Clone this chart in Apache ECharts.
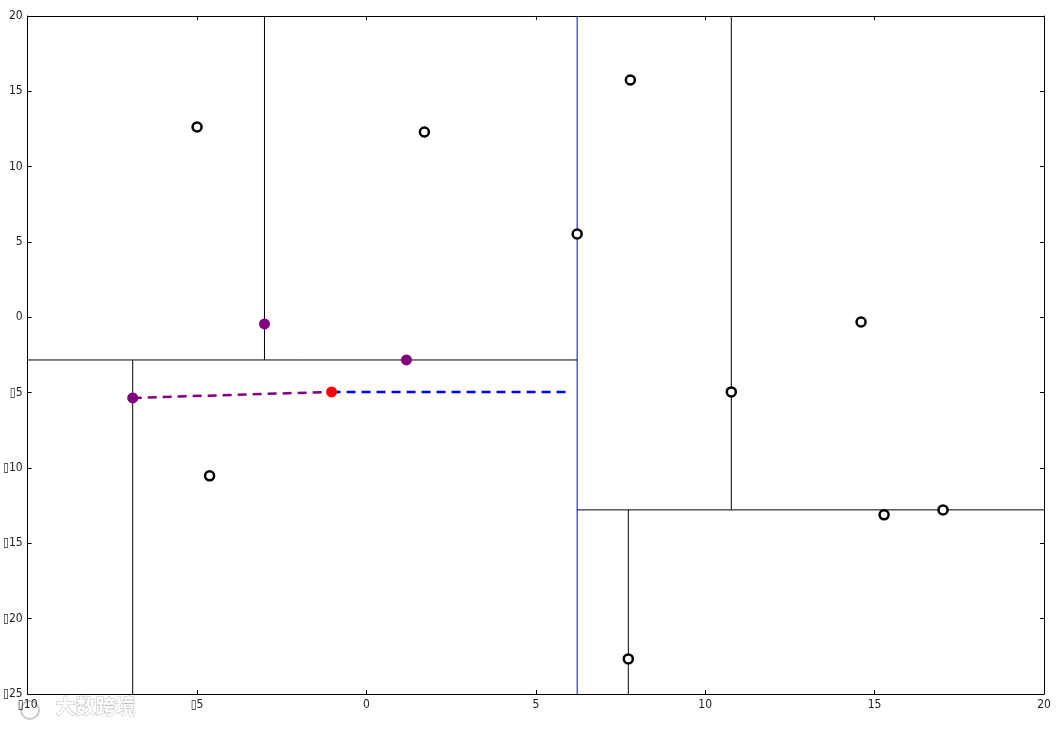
<!DOCTYPE html>
<html><head><meta charset="utf-8">
<script src="https://cdn.jsdelivr.net/npm/echarts@6/dist/echarts.min.js"></script>
<style>html,body{margin:0;padding:0;background:#fff}#c{width:1060px;height:729px}</style>
</head><body><div id="c"></div>
<script>
// Axis ticks
const xTicks = [-10, -5, 0, 5, 10, 15, 20];
const yTicks = [-25, -20, -15, -10, -5, 0, 5, 10, 15, 20];
// Data points (open circles)
const dataPoints = [
  [-5.0, 12.63], [1.71, 12.30], [7.79, 15.75], [6.22, 5.53], [14.60, -0.31],
  [10.77, -4.95], [-4.63, -10.52], [15.28, -13.11], [17.02, -12.78], [7.73, -22.67]
];
// Visited nodes (purple)
const visitedPoints = [[-3.01, -0.44], [1.18, -2.83], [-6.90, -5.35]];
// Query point (red)
const queryPoint = [[-1.03, -4.95]];
// Root split (blue)
const rootSplit = [[6.22, -25], [6.22, 20]];
// Other splits (black)
const splits = [
  [[-10, -2.83], [6.22, -2.83]],
  [[-3.01, -2.83], [-3.01, 20]],
  [[-6.90, -25], [-6.90, -2.83]],
  [[6.22, -12.78], [20, -12.78]],
  [[10.77, -12.78], [10.77, 20]],
  [[7.73, -25], [7.73, -12.78]]
];
// Dashed search paths
const purplePath = [[-6.90, -5.35], [-1.03, -4.95]];
const bluePath = [[-1.03, -4.95], [6.05, -4.95]];

const fmt = v => (v < 0 ? '\u25AF' + Math.abs(v) : String(v));
const labelStyle = {fontFamily: 'Liberation Sans Narrow, DejaVu Sans Condensed, sans-serif', fontSize: 12, color: '#222'};
const baseAxis = (pos, min, max, showLabel) => ({
  type: 'value', position: pos, min, max, interval: 5,
  splitLine: {show: false},
  axisLine: {show: true, onZero: false, lineStyle: {color: '#000', width: 1}},
  axisTick: {show: true, inside: true, length: 4, lineStyle: {color: '#000'}},
  axisLabel: Object.assign({show: showLabel, formatter: fmt, margin: 5}, labelStyle)
});

const series = [];
series.push({type: 'line', data: rootSplit, symbol: 'none', lineStyle: {color: '#0000ff', width: 1}, z: 2, animation: false});
splits.forEach(s => series.push({type: 'line', data: s, symbol: 'none', lineStyle: {color: '#000', width: 1}, z: 2, animation: false}));
series.push({type: 'line', data: purplePath, symbol: 'none', lineStyle: {color: '#800080', width: 2.5, type: [9, 6]}, z: 3, animation: false});
series.push({type: 'line', data: bluePath, symbol: 'none', lineStyle: {color: '#0000ff', width: 2.5, type: [9, 6]}, z: 3, animation: false});
series.push({type: 'scatter', data: dataPoints, symbol: 'circle', symbolSize: 9, itemStyle: {color: '#fff', borderColor: '#000', borderWidth: 2.5, opacity: 1}, z: 5, animation: false});
series.push({type: 'scatter', data: visitedPoints, symbol: 'circle', symbolSize: 11, itemStyle: {color: '#800080', opacity: 1}, z: 5, animation: false});
series.push({type: 'scatter', data: queryPoint, symbol: 'circle', symbolSize: 11, itemStyle: {color: '#ff0000', opacity: 1}, z: 6, animation: false});

const chart = echarts.init(document.getElementById('c'), null, {renderer: 'canvas'});
chart.setOption({
  animation: false,
  backgroundColor: '#fff',
  grid: {left: 27, right: 16, top: 16, bottom: 35, containLabel: false},
  xAxis: [baseAxis('bottom', xTicks[0], xTicks[xTicks.length - 1], true), baseAxis('top', xTicks[0], xTicks[xTicks.length - 1], false)],
  yAxis: [baseAxis('left', yTicks[0], yTicks[yTicks.length - 1], true), baseAxis('right', yTicks[0], yTicks[yTicks.length - 1], false)],
  series: series,
  graphic: [
    {type: 'text', left: 55, top: 696, style: {text: '大数跨境', fontFamily: 'Noto Sans CJK SC', fontWeight: 'bold', fontSize: 20, fill: 'rgba(255,255,255,0.9)', stroke: 'rgba(150,150,150,0.6)', lineWidth: 1}},
    {type: 'circle', shape: {cx: 30, cy: 710, r: 9}, style: {fill: 'none', stroke: 'rgba(150,150,150,0.5)', lineWidth: 2}}
  ]
});
</script></body></html>
